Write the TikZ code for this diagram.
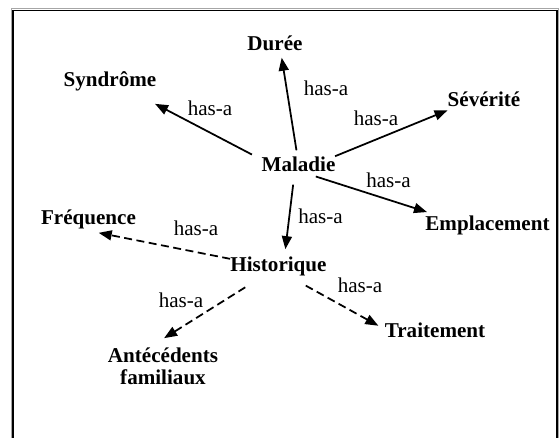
\documentclass[tikz,border=0pt]{standalone}
\usepackage{fontspec}
\setmainfont{Liberation Serif}
\usetikzlibrary{arrows.meta}
\tikzset{concept/.style={font=\fontsize{12}{12.5}\selectfont\bfseries, inner sep=0pt, align=center},
         hasa/.style={font=\fontsize{12}{12.5}\selectfont, inner sep=0pt},
         link/.style={line width=1pt, -{Triangle[length=0.26cm,width=0.2cm]}},
         optlink/.style={link, dash pattern=on 0.16cm off 0.09cm},
        }

\begin{document}
\begin{tikzpicture}
        \useasboundingbox (0,0) rectangle (11.2,8.74);
        \draw[gray!70, line width=0.4pt] (0.22,-1) rectangle (11.16,8.58);
        \draw[line width=1.1pt] (0.26,-1) rectangle (11.14,8.53);

        \node[concept](mal)at(5.97,5.46){Maladie};
        \node[concept](dur)at(5.50,7.87){Durée};
        \node[concept](syn)at(2.20,7.11){Syndrôme};
        \node[concept](sev)at(9.68,6.75){Sévérité};
        \node[concept](emp)at(9.75,4.24){Emplacement};
        \node[concept](his)at(5.57,3.41){Historique};
        \node[concept](fre)at(1.77,4.35){Fréquence};
        \node[concept](tra)at(8.70,2.14){Traitement};
        \node[concept](ant)at(3.26,1.41){Antécédents\\familiaux};

        \node[hasa](l1)at(4.20,6.58){has-a};
        \node[hasa](l2)at(6.52,6.98){has-a};
        \node[hasa](l3)at(7.52,6.38){has-a};
        \node[hasa](l4)at(7.77,5.14){has-a};
        \node[hasa](l5)at(6.41,4.42){has-a};
        \node[hasa](l6)at(3.92,4.18){has-a};
        \node[hasa](l7)at(3.62,2.74){has-a};
        \node[hasa](l8)at(7.20,3.04){has-a};

        \draw[link, shorten <=0.21cm, shorten >=0.53cm](mal.173.6)--(syn.-25.2);
        \draw[link, shorten <=0.12cm, shorten >=0.13cm](mal.98.5)--(dur.-54.3);
        \draw[link, shorten >=0.16cm](mal.12.7)--(sev.-165.2);
        \draw[link, shorten <=0.31cm, shorten >=0.2cm](mal.-72)--(emp.169.7);
        \draw[link, shorten <=0.26cm, shorten >=0.15cm](mal.-116)--(his.59);
        \draw[optlink, shorten >=0.35cm](his.171.2)--(fre.-125.8);
        \draw[optlink, shorten <=0.41cm, shorten >=0.36cm](his.-148)--(ant.127.3);
        \draw[optlink, shorten <=0.38cm, shorten >=0.14cm](his.-43.5)--(tra.179.1);
    \end{tikzpicture}
\end{document}
